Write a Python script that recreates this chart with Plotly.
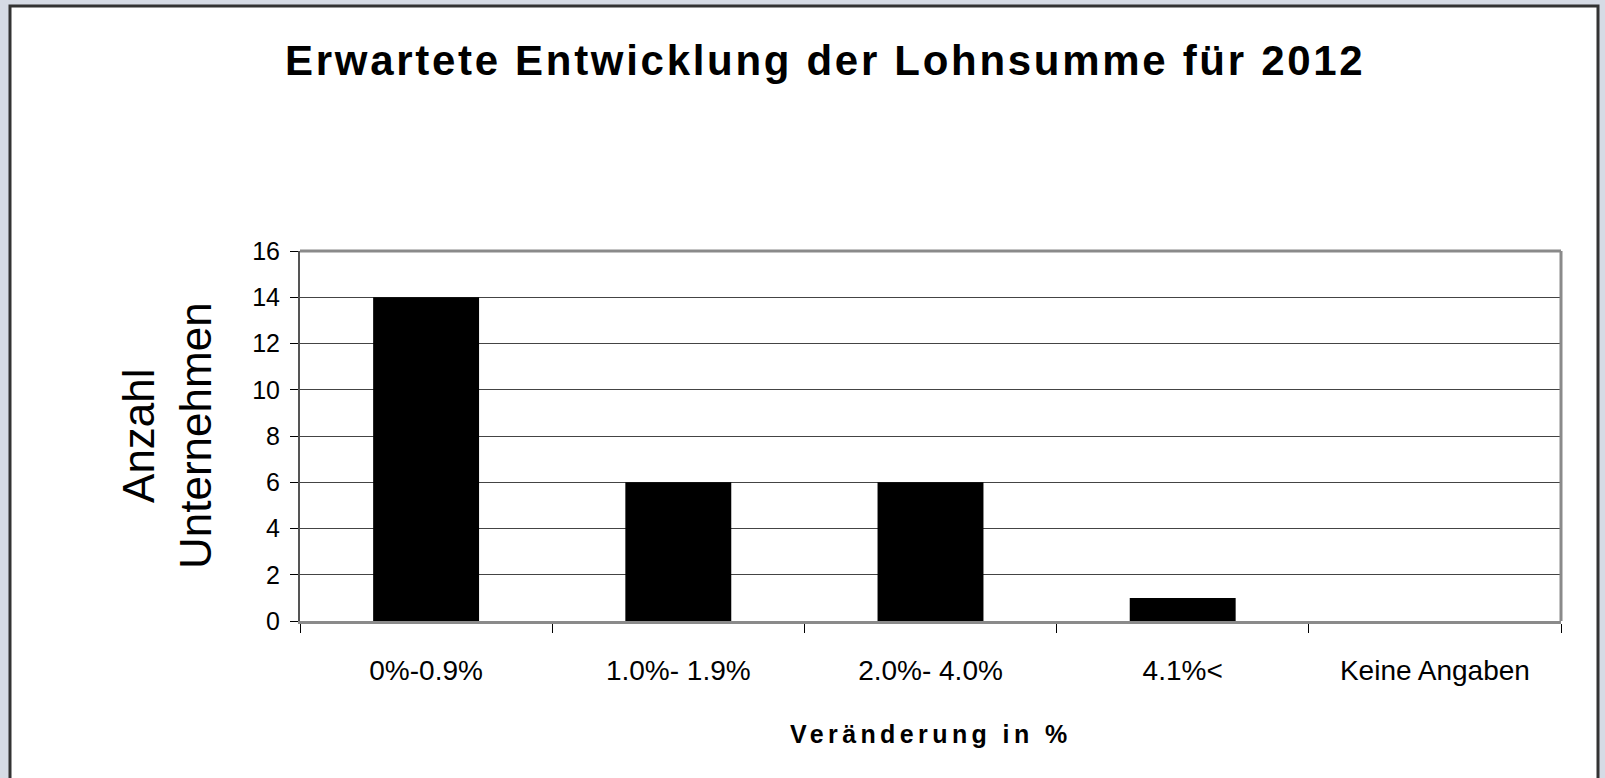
import plotly.graph_objects as go

categories = ["0%-0.9%", "1.0%- 1.9%", "2.0%- 4.0%", "4.1%<", "Keine Angaben"]
values = [14, 6, 6, 1, 0]
y_ticks = [0, 2, 4, 6, 8, 10, 12, 14, 16]

W, H = 1605, 778
L, R, T, B = 300, 1561, 251, 621
pw, ph = R - L, B - T

def px(x):
    return (x - L) / pw

def py(y):
    return (B - y) / ph

FONT = "Liberation Sans, Arial, sans-serif"

fig = go.Figure()
fig.add_trace(go.Bar(
    x=categories, y=values,
    marker=dict(color="#000000", line=dict(width=0)),
    width=0.42,
    hoverinfo="x+y",
))

fig.update_layout(
    width=W, height=H,
    margin=dict(l=L, r=W - R, t=T, b=H - B, pad=0),
    paper_bgcolor="#d6dbe5",
    plot_bgcolor="#ffffff",
    showlegend=False,
    font=dict(family=FONT, color="#000000"),
    xaxis=dict(
        type="category",
        tickson="boundaries",
        ticks="outside", ticklen=9, tickwidth=1, tickcolor="#000000",
        showline=True, linecolor="#8a8a8a", linewidth=3,
        showgrid=False,
        tickfont=dict(size=28, family=FONT),
        ticklabelstandoff=22,
        range=[-0.5, 4.5],
    ),
    yaxis=dict(
        range=[0, 16],
        tickvals=y_ticks,
        ticks="outside", ticklen=8, tickwidth=1, tickcolor="#000000",
        showline=True, linecolor="#555555", linewidth=2,
        showgrid=True, gridcolor="#444444", gridwidth=1,
        tickfont=dict(size=25, family=FONT),
        ticklabelstandoff=5,
        zeroline=False,
    ),
    shapes=[
        dict(type="rect", xref="paper", yref="paper", layer="below",
             x0=px(10), x1=px(1598), y0=py(800), y1=py(6),
             fillcolor="#ffffff", line=dict(color="#333333", width=3)),
        dict(type="line", xref="paper", yref="paper", layer="above",
             x0=0, x1=1, y0=1, y1=1, line=dict(color="#8a8a8a", width=3)),
        dict(type="line", xref="paper", yref="paper", layer="above",
             x0=1, x1=1, y0=0, y1=1, line=dict(color="#8a8a8a", width=3)),
    ],
    annotations=[
        dict(text='<span style="letter-spacing:2.7px"><b>Erwartete Entwicklung der Lohnsumme für 2012</b></span>',
             xref="paper", yref="paper", x=px(825), y=py(61),
             xanchor="center", yanchor="middle", showarrow=False,
             font=dict(size=42, family=FONT, color="#000000")),
        dict(text='<span style="letter-spacing:4.4px"><b>Veränderung in %</b></span>',
             xref="paper", yref="paper", x=px(931), y=py(734),
             xanchor="center", yanchor="middle", showarrow=False,
             font=dict(size=25, family=FONT, color="#000000")),
        dict(text="Anzahl<br>Unternehmen",
             xref="paper", yref="paper", x=px(167), y=py(436),
             xanchor="center", yanchor="middle", showarrow=False,
             textangle=-90,
             font=dict(size=44, family=FONT, color="#000000")),
    ],
)

fig.write_html(
    "out.html",
    config={"displayModeBar": False},
    post_script="document.body.style.margin='0';document.body.style.overflow='hidden';",
)
